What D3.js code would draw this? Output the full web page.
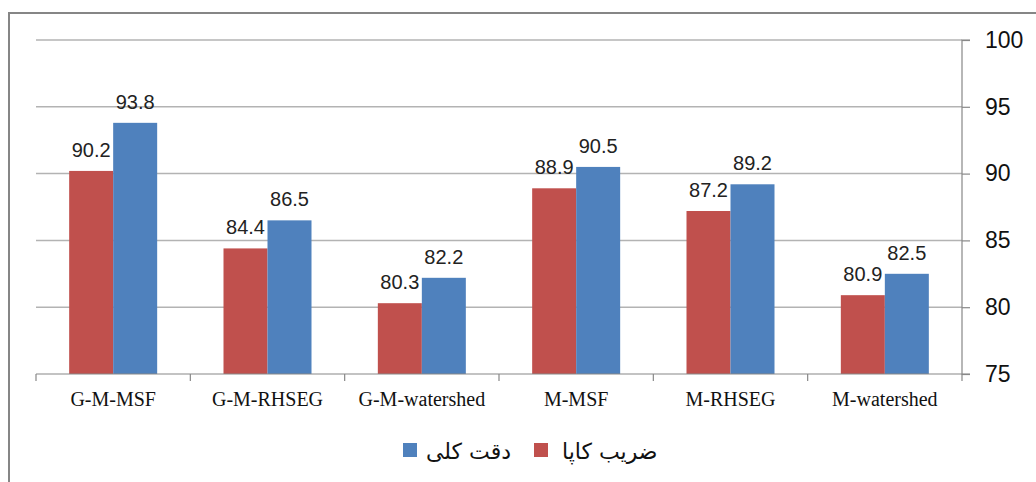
<!DOCTYPE html>
<html><head><meta charset="utf-8">
<script src="https://cdn.jsdelivr.net/npm/d3@7"></script>
<style>body{margin:0;background:#fff}svg{display:block}</style>
</head><body>
<script>
const categories = ["G-M-MSF","G-M-RHSEG","G-M-watershed","M-MSF","M-RHSEG","M-watershed"];
const kappa = [90.2,84.4,80.3,88.9,87.2,80.9];
const overall = [93.8,86.5,82.2,90.5,89.2,82.5];
const yTicks = [75,80,85,90,95,100];
const seriesNames = ["ضریب کاپا","دقت کلی"];
const colors = ["#C0504D","#4F81BD"];

(function(){
const W=1036,H=482;
const svg=d3.select("body").append("svg").attr("width",W).attr("height",H);
svg.append("rect").attr("x",9).attr("y",13).attr("width",W+20).attr("height",H+20)
  .attr("fill","none").attr("stroke","#868686").attr("stroke-width",2);

const pL=36,pR=962,pT=40,pB=374;
const x=d3.scaleBand().domain(categories).range([pL,pR]);
const y=d3.scaleLinear().domain([75,100]).range([pB,pT]);

svg.append("g").selectAll("line").data(yTicks.filter(d=>d>75)).join("line")
  .attr("x1",pL).attr("x2",pR).attr("y1",d=>y(d)).attr("y2",d=>y(d))
  .attr("stroke","#b3b3b3").attr("stroke-width",1.5);

const bw=44;
const series=[kappa,overall];
series.forEach((vals,si)=>{
  const g=svg.append("g");
  g.selectAll("rect").data(vals).join("rect")
    .attr("x",(d,i)=>x(categories[i])+x.bandwidth()/2-bw+si*bw)
    .attr("y",d=>y(d)).attr("width",bw).attr("height",d=>pB-y(d))
    .attr("fill",colors[si]);
  g.selectAll("text").data(vals).join("text")
    .attr("x",(d,i)=>x(categories[i])+x.bandwidth()/2-bw/2+si*bw)
    .attr("y",d=>y(d)-14).attr("text-anchor","middle")
    .attr("font-family","Liberation Sans, Arial, sans-serif").attr("font-size",20)
    .attr("fill","#222").text(d=>d.toFixed(1));
});

const ya=d3.axisRight(y).tickValues(yTicks).tickSize(8).tickPadding(15).tickFormat(d=>d);
const gy=svg.append("g").attr("transform",`translate(${pR},0)`).call(ya);
gy.select(".domain").attr("stroke","#888").attr("stroke-width",1.2).attr("d",`M8,${pT}H0V${pB}H8`);
gy.selectAll(".tick line").attr("stroke","#888").attr("stroke-width",1.2);
gy.selectAll("text").attr("font-family","Liberation Sans, Arial, sans-serif").attr("font-size",23).attr("fill","#111");

svg.append("line").attr("x1",pL).attr("x2",pR).attr("y1",pB).attr("y2",pB)
  .attr("stroke","#888").attr("stroke-width",1.2);
const bounds=categories.map(c=>x(c)).concat([pR]);
svg.append("g").selectAll("line").data(bounds).join("line")
  .attr("x1",d=>d).attr("x2",d=>d).attr("y1",pB).attr("y2",pB+7)
  .attr("stroke","#888").attr("stroke-width",1.2);
svg.append("g").selectAll("text").data(categories).join("text")
  .attr("x",d=>x(d)+x.bandwidth()/2).attr("y",406).attr("text-anchor","middle")
  .attr("font-family","Liberation Serif, Times New Roman, serif").attr("font-size",20)
  .attr("fill","#111").text(d=>d);

const leg=[{name:seriesNames[1],color:colors[1],sx:403,tx:426},{name:seriesNames[0],color:colors[0],sx:534,tx:562}];
leg.forEach(l=>{
  svg.append("rect").attr("x",l.sx).attr("y",443).attr("width",14).attr("height",14).attr("fill",l.color);
  svg.append("text").attr("x",l.tx).attr("y",459).attr("text-anchor","start")
    .attr("font-family","DejaVu Sans, Noto Sans, sans-serif").attr("font-size",22)
    .attr("fill","#111").text(l.name);
});
})();
</script>
</body></html>
